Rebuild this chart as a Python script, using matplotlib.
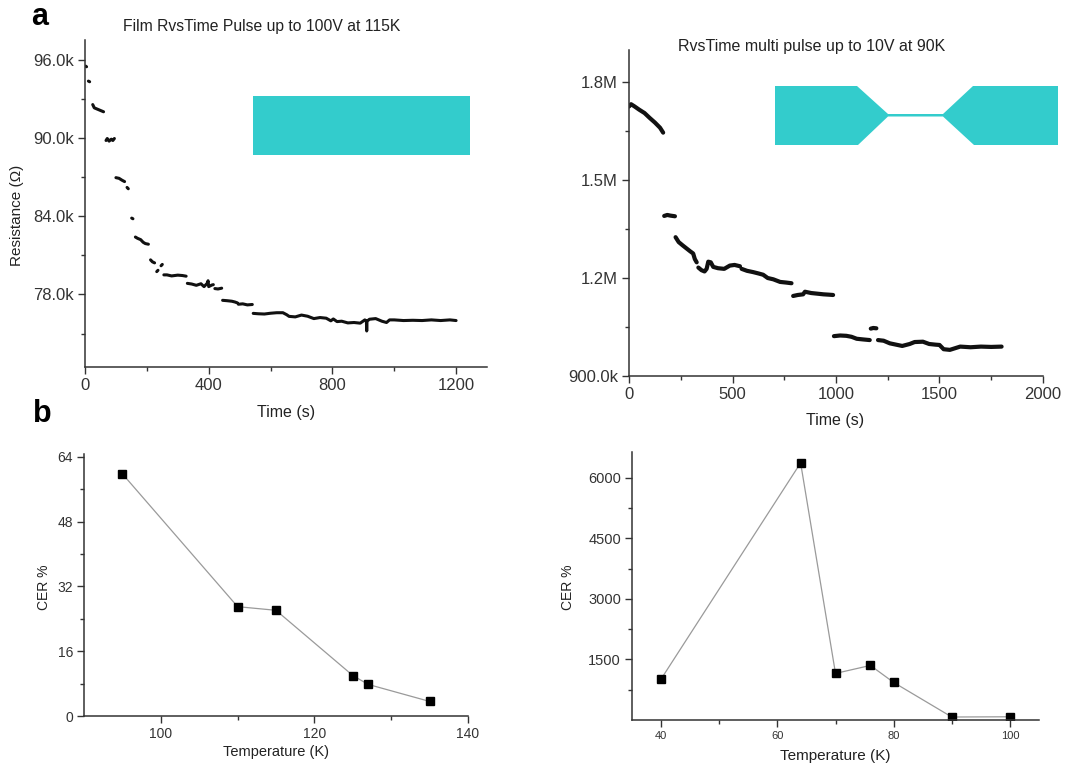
import numpy as np
import matplotlib
matplotlib.use("Agg")
import matplotlib.pyplot as plt
from matplotlib.patches import Polygon, Rectangle
from matplotlib.ticker import FuncFormatter, MultipleLocator, FixedLocator

plt.rcParams['font.family'] = ['Liberation Sans', 'DejaVu Sans']
plt.rcParams['text.color'] = '#222222'
plt.rcParams['axes.edgecolor'] = '#333333'
plt.rcParams['xtick.color'] = '#333333'
plt.rcParams['ytick.color'] = '#333333'

nan = np.nan

# panel a, left: film, resistance (ohm) vs time (s); nan splits the plateaus
film_t = [2, 5, nan, 11, 15, nan,
          25, 30, 40, 50, 60, nan,
          68, 72, 78, 85, 90, 95, nan,
          100, 110, 120, 128, nan, 136, 140, nan, 151, 155, nan,
          163, 170, 180, 188, 195, 205, nan,
          212, 218, 225, nan, 232, 236, nan, 246, 250, nan,
          255, 265, 280, 300, 315, 327, nan,
          331, 345, 360, 375, 385, 395, 398, 400, 410, 415, nan,
          420, 430, 442, nan,
          445, 460, 475, 485, 493, nan,
          496, 510, 525, 541, nan,
          544, 560, 580, 600, 620, 640, 652, 660, 680, 700, 720, 740, 760,
          780, 795, 803, 815, 830, 850, 870, 890, 905, 910, 911, 912, 920,
          940, 960, 975, 985, 1000, 1030, 1060, 1090, 1120, 1150, 1180, 1200]
film_r = [95500, 95450, nan, 94350, 94300, nan,
          92550, 92300, 92200, 92100, 92000, nan,
          89800, 89950, 89750, 89900, 89800, 89950, nan,
          86950, 86900, 86750, 86650, nan, 86200, 86100, nan, 83850, 83800, nan,
          82400, 82300, 82200, 82000, 81900, 81850, nan,
          80650, 80500, 80420, nan, 79750, 79850, nan, 80200, 80300, nan,
          79500, 79500, 79420, 79480, 79450, 79400, nan,
          78850, 78800, 78700, 78820, 78600, 78850, 79050, 78600, 78720, 78750, nan,
          78450, 78420, 78480, nan,
          77550, 77520, 77480, 77420, 77350, nan,
          77250, 77280, 77200, 77230, nan,
          76550, 76520, 76500, 76560, 76600, 76600, 76450, 76320, 76280, 76420,
          76330, 76150, 76230, 76180, 75980, 76120, 75920, 75950, 75820, 75850,
          75800, 76050, 75950, 75200, 75950, 76100, 76150, 75950, 75850, 76050,
          76050, 76000, 76020, 76000, 76050, 76000, 76050, 76000]

# panel a, right: constriction device, resistance (ohm) vs time (s)
dev_t = [0, 10, 25, 50, 75, 100, 125, 150, 165, nan,
         170, 185, 200, 222, nan,
         225, 240, 259, 275, 295, 310, 318, 327, nan,
         335, 350, 365, 375, 383, 395, 407, 430, 460, 487, 510, 536, nan,
         544, 570, 600, 625, 648, 670, 697, 730, 760, 785, nan,
         793, 815, 841, 850, 880, 910, 940, 965, 986, nan,
         990, 1020, 1050, 1075, 1100, 1130, 1163, nan,
         1168, 1180, 1195, nan,
         1203, 1230, 1260, 1290, 1320, 1356, 1380, 1420, 1450, 1480, 1500,
         1520, 1550, 1600, 1650, 1700, 1750, 1800]
dev_r = [1725e3, 1732e3, 1726e3, 1715e3, 1705e3, 1690e3, 1676e3, 1660e3, 1645e3, nan,
         1390e3, 1393e3, 1391e3, 1389e3, nan,
         1325e3, 1310e3, 1300e3, 1292e3, 1282e3, 1275e3, 1258e3, 1248e3, nan,
         1232e3, 1224e3, 1220e3, 1228e3, 1250e3, 1248e3, 1234e3, 1230e3, 1228e3, 1238e3, 1240e3, 1236e3, nan,
         1228e3, 1222e3, 1218e3, 1214e3, 1210e3, 1200e3, 1196e3, 1188e3, 1186e3, 1184e3, nan,
         1145e3, 1148e3, 1150e3, 1158e3, 1154e3, 1152e3, 1150e3, 1149e3, 1148e3, nan,
         1022e3, 1024e3, 1023e3, 1020e3, 1014e3, 1012e3, 1010e3, nan,
         1045e3, 1047e3, 1046e3, nan,
         1010e3, 1008e3, 1000e3, 996e3, 992e3, 998e3, 1004e3, 1005e3, 998e3, 996e3, 995e3,
         982e3, 980e3, 990e3, 988e3, 990e3, 989e3, 990e3]

# panel b: CER % vs temperature (K)
film_temp = [95, 110, 115, 125, 127, 135]
film_cer = [59.8, 27.0, 26.1, 10.0, 7.8, 3.6]
dev_temp = [40, 64, 70, 76, 80, 90, 100]
dev_cer = [1014, 6370, 1154, 1352, 931, 74, 80]

W, H = 1065, 767
fig = plt.figure(figsize=(W / 100, H / 100), dpi=100)


def box(l, t, r, b):
    # pixel box -> figure fraction rect
    return [l / W, 1 - b / H, (r - l) / W, (b - t) / H]


def style(ax, lab_size, xlab_size=None):
    for s in ['top', 'right']:
        ax.spines[s].set_visible(False)
    for s in ['left', 'bottom']:
        ax.spines[s].set_linewidth(1.1)
    ax.tick_params(which='major', direction='out', length=5, width=1.0,
                   labelsize=lab_size, pad=3)
    ax.tick_params(which='minor', direction='out', length=3, width=1.0)
    if xlab_size:
        ax.tick_params(axis='x', labelsize=xlab_size)


def kfmt(v, pos):
    if v >= 1e6:
        return f'{v / 1e6:.1f}M'
    return f'{v / 1e3:.1f}k'


# ---- top left
ax1 = fig.add_axes(box(85, 40, 487, 367))
ax1.plot(film_t, film_r, color='#111111', lw=2.2, solid_capstyle='round')
ax1.set_xlim(0, 1300)
ax1.set_ylim(72440, 97500)
ax1.xaxis.set_major_locator(FixedLocator([0, 400, 800, 1200]))
ax1.xaxis.set_minor_locator(FixedLocator([200, 600, 1000]))
ax1.yaxis.set_major_locator(FixedLocator([78000, 84000, 90000, 96000]))
ax1.yaxis.set_minor_locator(FixedLocator([75000, 81000, 87000, 93000]))
ax1.yaxis.set_major_formatter(FuncFormatter(kfmt))
style(ax1, 12)
fig.text(262 / W, 1 - 26 / H, 'Film RvsTime Pulse up to 100V at 115K',
         ha='center', va='center', fontsize=11.3)
fig.text(286 / W, 1 - 412 / H, 'Time (s)', ha='center', va='center', fontsize=11.5)
fig.text(17 / W, 1 - 215 / H, 'Resistance (\u03a9)', ha='center', va='center',
         rotation=90, fontsize=11)

# ---- top right
ax2 = fig.add_axes(box(629, 50, 1043, 376))
ax2.plot(dev_t, dev_r, color='#111111', lw=3.0, solid_capstyle='round')
ax2.set_xlim(0, 2000)
ax2.set_ylim(900e3, 1898e3)
ax2.xaxis.set_major_locator(MultipleLocator(500))
ax2.xaxis.set_minor_locator(MultipleLocator(250))
ax2.yaxis.set_major_locator(FixedLocator([900e3, 1200e3, 1500e3, 1800e3]))
ax2.yaxis.set_minor_locator(FixedLocator([1050e3, 1350e3, 1650e3]))
ax2.yaxis.set_major_formatter(FuncFormatter(kfmt))
style(ax2, 12)
fig.text(812 / W, 1 - 46 / H, 'RvsTime multi pulse up to 10V at 90K',
         ha='center', va='center', fontsize=11.5)
fig.text(835 / W, 1 - 420 / H, 'Time (s)', ha='center', va='center', fontsize=11.5)

# ---- bottom left
ax3 = fig.add_axes(box(84, 454, 468, 716))
ax3.plot(film_temp, film_cer, color='#9a9a9a', lw=0.9, marker='s', ms=5.5,
         mfc='black', mec='black')
ax3.set_xlim(90, 140)
ax3.set_ylim(0, 64.7)
ax3.xaxis.set_major_locator(MultipleLocator(20))
ax3.xaxis.set_minor_locator(FixedLocator([110, 130]))
ax3.yaxis.set_major_locator(MultipleLocator(16))
ax3.yaxis.set_minor_locator(FixedLocator([8, 24, 40, 56]))
style(ax3, 10)
fig.text(276 / W, 1 - 752 / H, 'Temperature (K)', ha='center', va='center', fontsize=10.5)
fig.text(44 / W, 1 - 587 / H, 'CER %', ha='center', va='center', rotation=90, fontsize=10)

# ---- bottom right
ax4 = fig.add_axes(box(632, 452, 1039, 720))
ax4.plot(dev_temp, dev_cer, color='#9a9a9a', lw=0.9, marker='s', ms=5.5,
         mfc='black', mec='black')
ax4.set_xlim(35, 105)
ax4.set_ylim(0, 6640)
ax4.xaxis.set_major_locator(FixedLocator([40, 60, 80, 100]))
ax4.xaxis.set_minor_locator(FixedLocator([50, 70, 90]))
ax4.yaxis.set_major_locator(FixedLocator([1500, 3000, 4500, 6000]))
ax4.yaxis.set_minor_locator(FixedLocator([750, 2250, 3750, 5250]))
style(ax4, 10.5, 8)
fig.text(835 / W, 1 - 756 / H, 'Temperature (K)', ha='center', va='center', fontsize=11)
fig.text(568 / W, 1 - 587 / H, 'CER %', ha='center', va='center', rotation=90, fontsize=10)

# panel letters
fig.text(40 / W, 1 - 17 / H, 'a', ha='center', va='center', fontsize=22, fontweight='bold',
         color='black')
fig.text(42 / W, 1 - 414 / H, 'b', ha='center', va='center', fontsize=22, fontweight='bold',
         color='black')

# device sketches (cyan insets)
cyan = '#33cccc'
fig.patches.append(Rectangle((253 / W, 1 - 155 / H), 217 / W, 59 / H,
                             transform=fig.transFigure, color=cyan, lw=0))
bow_px = [(775, 86), (857, 86), (888, 114), (943, 114), (973, 86), (1058, 86),
          (1058, 145), (974, 145), (943, 116.5), (888, 116.5), (858, 145), (775, 145)]
fig.patches.append(Polygon([(x / W, 1 - y / H) for x, y in bow_px], closed=True,
                           transform=fig.transFigure, color=cyan, lw=0))

fig.savefig('out.png', dpi=100)
